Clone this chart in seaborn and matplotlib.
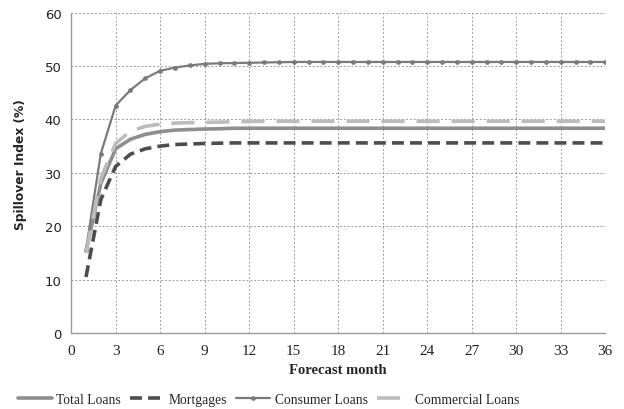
import matplotlib
matplotlib.use("Agg")
import matplotlib.pyplot as plt
import seaborn as sns
import pandas as pd

months = list(range(1, 37))

total_loans = [15.3, 28.0, 34.5, 36.3, 37.2, 37.7, 38.0, 38.1, 38.2, 38.25] + [38.35] * 26
mortgages = [10.5, 25.0, 31.2, 33.5, 34.5, 35.0, 35.3, 35.4, 35.5, 35.55] + [35.6] * 26
consumer_loans = [15.6, 33.6, 42.6, 45.5, 47.7, 49.1, 49.7, 50.1, 50.4, 50.5,
                  50.55, 50.6, 50.65, 50.7] + [50.75] * 22
commercial_loans = [15.0, 29.0, 35.5, 37.8, 38.7, 39.1, 39.3, 39.4, 39.45, 39.5,
                    39.55, 39.6] + [39.65] * 24

series_names = ["Total Loans", "Mortgages", "Consumer Loans", "Commercial Loans"]

df = pd.DataFrame({
    "month": months * 4,
    "value": total_loans + mortgages + consumer_loans + commercial_loans,
    "series": sum([[n] * len(months) for n in series_names], []),
})

sns.set_style("white")
plt.rcParams["font.family"] = ["Liberation Serif", "DejaVu Serif"]

fig = plt.figure(figsize=(6.24, 4.10), dpi=100)
ax = fig.add_axes([0.114, 0.185, 0.856, 0.782])

styles = {
    "Total Loans": dict(color="#8e8e8e", lw=2.6, ls="-"),
    "Mortgages": dict(color="#4d4d4d", lw=2.6, ls=(0, (3.3, 1.7))),
    "Consumer Loans": dict(color="#7a7a7a", lw=1.6, ls="-", marker="o", ms=3.4,
                           markeredgecolor="#7a7a7a", markeredgewidth=0),
    "Commercial Loans": dict(color="#bcbcbc", lw=2.6, ls=(0, (6.4, 3.3))),
}

for name in series_names:
    sub = df[df["series"] == name]
    sns.lineplot(data=sub, x="month", y="value", ax=ax, label=name, **styles[name])

ax.set_xlim(0, 36)
ax.set_ylim(0, 60)
ax.set_xticks(range(0, 37, 3))
ax.set_yticks(range(0, 61, 10))
ax.grid(True, color="#9a9a9a", ls=(0, (2, 2)), lw=0.7)
for s in ["top", "right"]:
    ax.spines[s].set_visible(False)
for s in ["left", "bottom"]:
    ax.spines[s].set_color("#9a9a9a")
    ax.spines[s].set_linewidth(1.0)
ax.tick_params(axis="both", length=4, color="#9a9a9a", direction="out", colors="#222222")
ax.tick_params(axis="x", labelsize=11, pad=4)
ax.tick_params(axis="y", labelsize=9.5, pad=3)
for lab in ax.get_yticklabels():
    lab.set_family(["DejaVu Sans"])

ax.set_xlabel("Forecast month", fontsize=10.5, fontweight="bold", labelpad=4)
ax.set_ylabel("Spillover Index (%)", fontsize=8.8, fontweight="bold",
              family=["DejaVu Sans"])
ax.yaxis.set_label_coords(-0.082, 0.53)

ax.legend(loc="lower center", bbox_to_anchor=(0.37, -0.245), ncol=4, frameon=False,
          fontsize=9.8, handlelength=2.5, columnspacing=0.7, handletextpad=0.3,
          borderaxespad=0)

fig.savefig("out.png", dpi=100)
